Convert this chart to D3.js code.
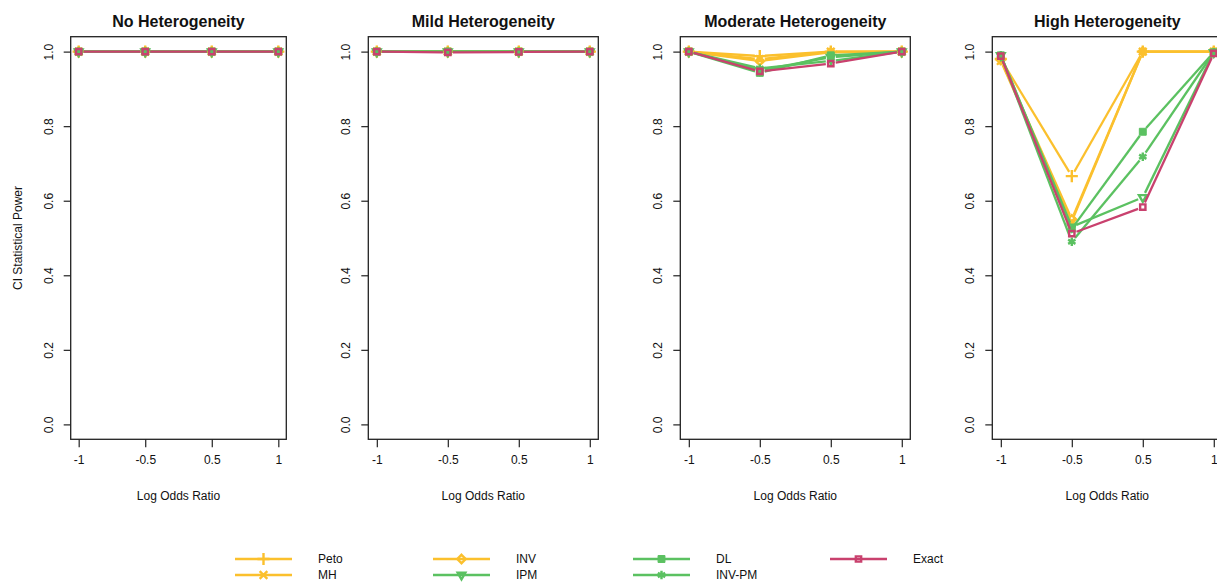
<!DOCTYPE html>
<html>
<head>
<meta charset="utf-8">
<script src="https://cdn.jsdelivr.net/npm/d3@7"></script>
<style>
  body { margin: 0; background: #fff; }
  svg { display: block; font-family: "Liberation Sans", Arial, sans-serif; }
</style>
</head>
<body>
<div id="viz"></div>
<script>
// tick labels / categories
var categories = ['-1', '-0.5', '0.5', '1'];
var panelTitles = ['No Heterogeneity', 'Mild Heterogeneity', 'Moderate Heterogeneity', 'High Heterogeneity'];
var yTicks = [0, 0.2, 0.4, 0.6, 0.8, 1.0];
var methods = ['Peto', 'MH', 'INV', 'IPM', 'DL', 'INV-PM', 'Exact'];

// one row per panel (no, mild, moderate, high heterogeneity)
var peto  = [[1, 1, 1, 1], [1, 1, 1, 1], [1, 0.988, 1, 1],     [0.98, 0.666, 1, 1]];
var mh    = [[1, 1, 1, 1], [1, 1, 1, 1], [1, 0.98, 1, 1],      [0.975, 0.545, 1, 1]];
var inv   = [[1, 1, 1, 1], [1, 1, 1, 1], [1, 0.975, 0.998, 1], [0.978, 0.55, 1, 1]];
var ipm   = [[1, 1, 1, 1], [1, 1, 1, 1], [1, 0.95, 0.985, 1],  [0.99, 0.53, 0.609, 0.998]];
var dl    = [[1, 1, 1, 1], [1, 1, 1, 1], [1, 0.943, 0.99, 1],  [0.99, 0.525, 0.785, 0.998]];
var invpm = [[1, 1, 1, 1], [1, 1, 1, 1], [1, 0.955, 0.975, 1], [0.99, 0.49, 0.718, 0.998]];
var exact = [[1, 1, 1, 1], [1, 0.998, 0.999, 1], [1, 0.947, 0.968, 1], [0.988, 0.512, 0.583, 0.995]];

var seriesData = [peto, mh, inv, ipm, dl, invpm, exact];

var yellow = '#FBC02D', green = '#5BC161', pink = '#C9416E';
var colors = [yellow, yellow, yellow, green, green, green, pink];

var symbolDefs = [
  {type: d3.symbolPlus, size: 50, fill: false, rot: 0},
  {type: d3.symbolTimes, size: 40, fill: false, rot: 0},
  {type: d3.symbolDiamond2, size: 45, fill: false, rot: 0},
  {type: d3.symbolTriangle2, size: 42, fill: false, rot: 180},
  {type: d3.symbolSquare, size: 48, fill: true, rot: 0},
  {type: d3.symbolAsterisk, size: 50, fill: false, rot: 0},
  {type: d3.symbolSquare2, size: 36, fill: false, rot: 0}
];

var width = 1217, height = 584;
var boxLeft = [70.7, 368.3, 680.3, 992.3],
    boxWidth = [215.6, 230, 230, 230],
    plotTop = 36.7, plotBottom = 439.3;

var svg = d3.select('#viz').append('svg')
  .attr('width', width)
  .attr('height', height);

function addSymbol(g, i, x, y) {
  var s = symbolDefs[i];
  g.append('path')
    .attr('d', d3.symbol().type(s.type).size(s.size)())
    .attr('transform', 'translate(' + x + ',' + y + ') rotate(' + s.rot + ')')
    .attr('fill', s.fill ? colors[i] : 'none')
    .attr('stroke', colors[i])
    .attr('stroke-width', s.fill ? 1 : 2.4);
}

var yScale = d3.scaleLinear().domain([-0.04, 1.04]).range([plotBottom, plotTop]);

for (var p = 0; p < 4; p++) {
  var left = boxLeft[p], right = boxLeft[p] + boxWidth[p];
  var xScale = d3.scaleLinear().domain([0.88, 4.12]).range([left, right]);
  var panel = svg.append('g');

  // title
  panel.append('text')
    .attr('x', (left + right) / 2).attr('y', 27)
    .attr('text-anchor', 'middle')
    .style('font-size', '16px').style('font-weight', 'bold')
    .attr('fill', '#111')
    .text(panelTitles[p]);

  // x axis
  var xAxis = d3.axisBottom(xScale)
    .tickValues([1, 2, 3, 4])
    .tickFormat(function(d) { return categories[d - 1]; })
    .tickSize(8).tickSizeOuter(0).tickPadding(8);
  var xg = panel.append('g')
    .attr('transform', 'translate(0,' + plotBottom + ')')
    .call(xAxis);
  xg.select('.domain').remove();
  xg.selectAll('line').attr('stroke', '#222').attr('stroke-width', 1.2);
  xg.selectAll('text').style('font-size', '12px').attr('fill', '#111')
    .attr('font-family', '"Liberation Sans", Arial, sans-serif');

  panel.append('text')
    .attr('x', (left + right) / 2).attr('y', 500)
    .attr('text-anchor', 'middle')
    .style('font-size', '12px').attr('fill', '#111')
    .text('Log Odds Ratio');

  // y axis
  var yAxis = d3.axisLeft(yScale)
    .tickValues(yTicks)
    .tickFormat(d3.format('.1f'))
    .tickSize(7).tickSizeOuter(0);
  var yg = panel.append('g')
    .attr('transform', 'translate(' + left + ',0)')
    .call(yAxis);
  yg.select('.domain').remove();
  yg.selectAll('line').attr('stroke', '#222').attr('stroke-width', 1.2);
  yg.selectAll('text')
    .attr('x', null).attr('dy', null)
    .attr('text-anchor', 'middle')
    .attr('transform', 'translate(-18,0) rotate(-90)')
    .style('font-size', '12px').attr('fill', '#111')
    .attr('font-family', '"Liberation Sans", Arial, sans-serif');

  if (p == 0) {
    panel.append('text')
      .attr('transform', 'translate(22,' + ((plotTop + plotBottom) / 2) + ') rotate(-90)')
      .attr('text-anchor', 'middle')
      .style('font-size', '12px').attr('fill', '#111')
      .text('CI Statistical Power');
  }

  // box
  panel.append('rect')
    .attr('x', left).attr('y', plotTop)
    .attr('width', right - left).attr('height', plotBottom - plotTop)
    .attr('fill', 'none').attr('stroke', '#222').attr('stroke-width', 1.3);

  // series, R type "b": lines with gaps round the points
  var gap = 5;
  for (var m = 0; m < methods.length; m++) {
    var vals = seriesData[m][p];
    var sg = panel.append('g');
    for (var k = 0; k < vals.length - 1; k++) {
      var x1 = xScale(k + 1), y1 = yScale(vals[k]),
          x2 = xScale(k + 2), y2 = yScale(vals[k + 1]);
      var len = Math.sqrt((x2 - x1) * (x2 - x1) + (y2 - y1) * (y2 - y1));
      var ux = (x2 - x1) / len, uy = (y2 - y1) / len;
      sg.append('line')
        .attr('x1', x1 + ux * gap).attr('y1', y1 + uy * gap)
        .attr('x2', x2 - ux * gap).attr('y2', y2 - uy * gap)
        .attr('stroke', colors[m]).attr('stroke-width', 2.3);
    }
    vals.forEach(function(v, k) {
      addSymbol(sg, m, xScale(k + 1), yScale(v));
    });
  }
}

// legend
var legCols = [235, 433, 633, 830];
var legRows = [559, 575];
methods.forEach(function(name, i) {
  var col = Math.floor(i / 2), row = i % 2;
  if (i == 6) { col = 3; row = 0; }
  var lx = legCols[col], ly = legRows[row];
  var lg = svg.append('g');
  lg.append('line')
    .attr('x1', lx).attr('x2', lx + 57)
    .attr('y1', ly).attr('y2', ly)
    .attr('stroke', colors[i]).attr('stroke-width', 2.3);
  addSymbol(lg, i, lx + 28.5, ly);
  lg.append('text')
    .attr('x', lx + 83).attr('y', ly + 4)
    .style('font-size', '12px').attr('fill', '#111')
    .text(name);
});
</script>
</body>
</html>
